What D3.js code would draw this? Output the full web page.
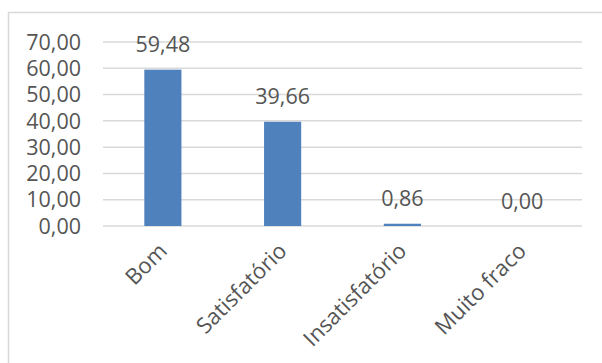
<!DOCTYPE html>
<html>
<head>
<meta charset="utf-8">
<script src="https://cdn.jsdelivr.net/npm/d3@7"></script>
<style>
  body { margin: 0; background: #fff; }
  text { font-family: "Open Sans", sans-serif; fill: #555; }
</style>
</head>
<body>
<script>
// chart data
const categories = ["Bom", "Satisfatório", "Insatisfatório", "Muito fraco"];
const values = [59.48, 39.66, 0.86, 0.00];
const yTicks = [0, 10, 20, 30, 40, 50, 60, 70];

const w = 602, h = 363;
const fmt = v => d3.format(".2f")(v).replace(".", ",");

const svg = d3.select("body")
              .append("svg")
              .attr("width", w)
              .attr("height", h);

// chart area border (runs off the right and bottom edges)
svg.append("path")
   .attr("d", "M8.5," + (h + 5) + "V12.5H" + (w + 5))
   .attr("fill", "none")
   .attr("stroke", "#d9d9d9")
   .attr("stroke-width", 1.5);

const x = d3.scaleBand()
            .domain(categories)
            .range([103, 582])
            .paddingInner(0.69)
            .paddingOuter(0.345);

const y = d3.scaleLinear()
            .domain([0, 70])
            .range([226, 42]);

// gridlines
svg.selectAll(".grid")
   .data(yTicks)
   .enter()
   .append("line")
   .attr("class", "grid")
   .attr("x1", 103)
   .attr("x2", 582)
   .attr("y1", d => y(d))
   .attr("y2", d => y(d))
   .attr("stroke", "#d9d9d9")
   .attr("stroke-width", 1.5);

// y tick labels
svg.selectAll(".ytick")
   .data(yTicks)
   .enter()
   .append("text")
   .attr("class", "ytick")
   .attr("x", 81)
   .attr("y", d => y(d))
   .attr("dy", "0.36em")
   .attr("text-anchor", "end")
   .attr("font-size", 21.5)
   .text(d => fmt(d));

// bars
svg.selectAll(".bar")
   .data(values)
   .enter()
   .append("rect")
   .attr("class", "bar")
   .attr("x", (d, i) => x(categories[i]))
   .attr("y", d => y(d))
   .attr("width", x.bandwidth())
   .attr("height", d => y(0) - y(d))
   .attr("fill", "#4f81bd");

// value labels
svg.selectAll(".val")
   .data(values)
   .enter()
   .append("text")
   .attr("class", "val")
   .attr("x", (d, i) => x(categories[i]) + x.bandwidth() / 2)
   .attr("y", d => y(d) - 17.5)
   .attr("text-anchor", "middle")
   .attr("font-size", 21.5)
   .text(d => fmt(d));

// category labels, rotated
svg.selectAll(".cat")
   .data(categories)
   .enter()
   .append("text")
   .attr("class", "cat")
   .attr("text-anchor", "end")
   .attr("dy", "0.35em")
   .attr("font-size", 22)
   .attr("transform", d => "translate(" + (x(d) + x.bandwidth() / 2) + ",247) rotate(-45)")
   .text(d => d);
</script>
</body>
</html>
